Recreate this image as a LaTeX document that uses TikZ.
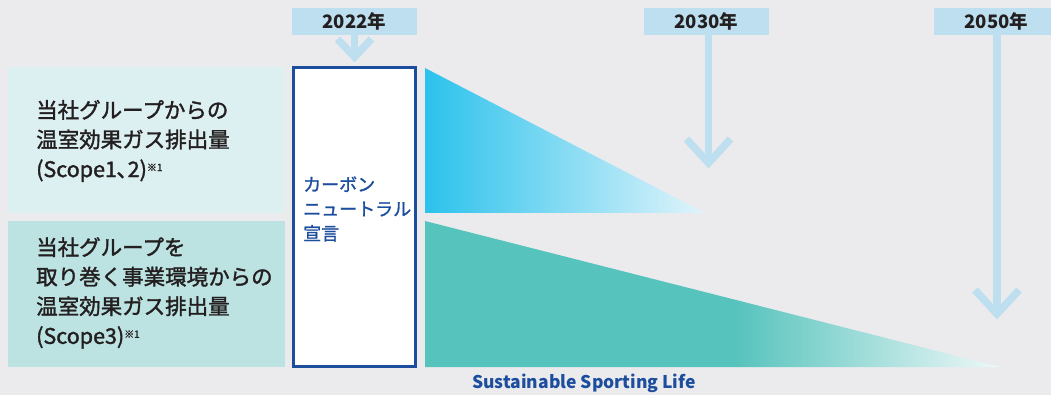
\documentclass[tikz,border=0pt]{standalone}
\usepackage{fontspec}
\setmainfont{Noto Sans CJK JP}
\usetikzlibrary{calc}
\definecolor{bg}{HTML}{EBEBEE}
\definecolor{yearblue}{HTML}{BEDFEF}
\definecolor{box1}{HTML}{DCEFF1}
\definecolor{box2}{HTML}{BCE3E2}
\definecolor{navy}{HTML}{1D4E9E}
\definecolor{txt}{HTML}{231F20}
\definecolor{cyanA}{HTML}{2BC2EC}
\definecolor{cyanB}{HTML}{E2F4FB}
\definecolor{tealA}{HTML}{57C3BD}
\definecolor{tealB}{HTML}{EEF8F8}
\pgfdeclarehorizontalshading{tealfade}{100bp}{color(0bp)=(tealA); color(25bp)=(tealA); color(52bp)=(tealA); color(75bp)=(tealB); color(100bp)=(tealB)}
\newcommand{\nt}{\raisebox{6pt}{\fontsize{10}{10}\selectfont ※1}}
\begin{document}
\begin{tikzpicture}[x=1pt,y=-1pt,
  yearbox/.style={fill=yearblue, minimum width=125pt, minimum height=27pt, inner sep=0pt, text=txt, font=\fontsize{18.5}{18.5}\selectfont\bfseries},
  yarrow/.style={draw=yearblue, line width=7.5pt},
  lefttext/.style={anchor=west, inner sep=0pt, align=left, text=txt, font=\fontsize{21.5}{29.5}\selectfont\addfontfeature{FakeBold=1.6}},
]
\fill[bg] (0,0) rectangle (1051,395);
\useasboundingbox (0,0) rectangle (1051,395);
\clip (0,0) rectangle (1051,395);

% left boxes
\fill[box1] (8,67) rectangle (285,213);
\fill[box2] (8,221) rectangle (285,367);
\node[lefttext] (t1) at (36,141) {当社グループからの\\温室効果ガス排出量\\(Scope1､2)\nt};
\node[lefttext] (t2) at (36,293) {当社グループを\\取り巻く事業環境からの\\温室効果ガス排出量\\(Scope3)\nt};

% declaration box
\node[draw=navy, line width=3pt, fill=white, minimum width=122pt, minimum height=299pt, inner sep=0pt] (decl) at (354.5,217) {};
\node[anchor=west, inner sep=0pt, align=left, text=navy, font=\fontsize{18}{24.5}\selectfont\addfontfeature{FakeBold=1.4}] (dtext) at (303,209) {カーボン\\ニュートラル\\宣言};

% triangles
\shade[left color=cyanA, right color=cyanB] (425,68) -- (705,213) -- (425,213) -- cycle;
\shade[shading=tealfade] (425,221) -- (1000,367) -- (425,367) -- cycle;

% years
\node[yearbox] (y2022) at (354.5,21.5) {2022年};
\node[yearbox] (y2030) at (706.5,21.5) {2030年};
\node[yearbox] (y2050) at (996.5,21.5) {2050年};

\coordinate (t2022) at (354.5,57);
\coordinate (t2030) at (708.5,163);
\coordinate (t2050) at (997,314);
\draw[yarrow] (y2022.south -| t2022) -- (t2022);
\draw[yarrow, line join=miter] ($(t2022)+(-17,-18)$) -- (t2022) -- ($(t2022)+(17,-18)$);
\draw[yarrow] (y2030.south -| t2030) -- (t2030);
\draw[yarrow, line join=miter] ($(t2030)+(-22,-24)$) -- (t2030) -- ($(t2030)+(22,-24)$);
\draw[yarrow] (y2050.south -| t2050) -- (t2050);
\draw[yarrow, line join=miter] ($(t2050)+(-22,-24)$) -- (t2050) -- ($(t2050)+(22,-24)$);

\node[inner sep=0pt, text=navy, font=\fontsize{17.5}{17.5}\selectfont\bfseries] (ssl) at (584,383) {Sustainable Sporting Life};
\end{tikzpicture}
\end{document}
